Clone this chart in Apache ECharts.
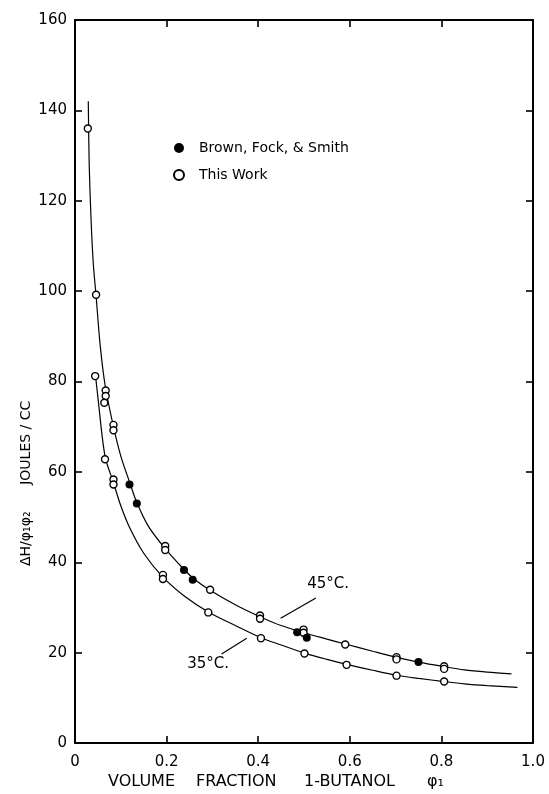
<!DOCTYPE html>
<html>
<head>
<meta charset="utf-8">
<script src="https://cdn.jsdelivr.net/npm/echarts@6/dist/echarts.min.js"></script>
<style>
  html, body { margin: 0; padding: 0; background: #fff; }
  #container { width: 549px; height: 794px; }
</style>
</head>
<body>
<div id="container"></div>
<script>
var dom = document.getElementById("container");
var myChart = echarts.init(dom);

// tick labels
var xTicks = [0, 0.2, 0.4, 0.6, 0.8, 1.0];
var xTickLabels = ["0", "0.2", "0.4", "0.6", "0.8", "1.0"];

// fitted curves [phi1, joules/cc]
var curve45 = [
  [0.029, 142], [0.031, 128], [0.035, 116], [0.040, 106], [0.046, 99],
  [0.055, 88], [0.066, 79], [0.084, 70], [0.100, 63.5], [0.120, 57.5],
  [0.135, 53.2], [0.160, 48], [0.197, 43], [0.237, 38.5], [0.260, 36.3],
  [0.295, 33.8], [0.350, 30.6], [0.405, 27.9], [0.450, 26], [0.500, 24.4],
  [0.550, 23], [0.590, 21.9], [0.650, 20.3], [0.700, 19], [0.750, 17.9],
  [0.806, 16.9], [0.850, 16.2], [0.900, 15.7], [0.953, 15.3]
];
var curve35 = [
  [0.044, 82], [0.050, 76.5], [0.0655, 63.5], [0.084, 57.6], [0.100, 52.5],
  [0.120, 47.5], [0.150, 42], [0.192, 36.7], [0.240, 32.4], [0.291, 29],
  [0.350, 26], [0.406, 23.3], [0.450, 21.7], [0.501, 19.9], [0.550, 18.5],
  [0.593, 17.4], [0.650, 16.1], [0.702, 15], [0.750, 14.3], [0.806, 13.6],
  [0.850, 13.1], [0.900, 12.7], [0.966, 12.3]
];

// Brown, Fock, & Smith (filled)
var brownData = [
  [0.119, 57.2], [0.135, 53.0], [0.238, 38.3], [0.257, 36.1],
  [0.485, 24.5], [0.506, 23.3], [0.750, 17.9]
];

// This Work (open)
var thisWork = [
  [0.028, 136], [0.046, 99.2], [0.067, 78.0], [0.067, 76.8], [0.064, 75.3],
  [0.084, 70.4], [0.084, 69.2], [0.197, 43.6], [0.197, 42.7], [0.295, 33.9],
  [0.404, 28.2], [0.404, 27.5], [0.499, 25.1], [0.499, 24.4], [0.590, 21.8],
  [0.702, 19.0], [0.702, 18.5], [0.806, 17.0], [0.806, 16.4],
  [0.044, 81.2], [0.0655, 62.8], [0.084, 58.3], [0.084, 57.2], [0.192, 37.2],
  [0.192, 36.3], [0.291, 28.9], [0.406, 23.2], [0.501, 19.8], [0.593, 17.3],
  [0.702, 14.9], [0.806, 13.6]
];

// leader lines for the temperature labels
var leader45 = [[0.449, 27.6], [0.526, 32.1]];
var leader35 = [[0.320, 19.7], [0.375, 23.2]];
var label45 = [0.507, 34.6];
var label35 = [0.245, 16.9];

var font = "DejaVu Sans";

function fmtX(v) {
  var i = xTicks.indexOf(Math.round(v * 10) / 10);
  return i >= 0 ? xTickLabels[i] : "";
}

var axisLine = { onZero: false, lineStyle: { color: "#000", width: 2 } };
var axisTick = { inside: true, length: 7, lineStyle: { color: "#000", width: 1.6 } };

var option = {
  animation: false,
  backgroundColor: "#fff",
  grid: { left: 75, right: 16, top: 20, bottom: 51 },
  legend: {
    orient: "vertical",
    left: 168,
    top: 136,
    itemWidth: 10,
    itemHeight: 10,
    itemGap: 13,
    textStyle: { fontFamily: font, fontSize: 14, color: "#000", padding: [0, 0, 0, 10] },
    data: [
      { name: "Brown, Fock, & Smith", icon: "circle" },
      { name: "This Work", icon: "circle" }
    ]
  },
  xAxis: [
    {
      type: "value", min: 0, max: 1, interval: 0.2,
      axisLine: axisLine, axisTick: axisTick, splitLine: { show: false },
      axisLabel: { formatter: fmtX, margin: 12, fontFamily: font, fontSize: 15, color: "#000" }
    },
    {
      type: "value", position: "top", min: 0, max: 1, interval: 0.2,
      axisLine: axisLine, axisTick: axisTick, splitLine: { show: false },
      axisLabel: { show: false }
    }
  ],
  yAxis: [
    {
      type: "value", min: 0, max: 160, interval: 20,
      axisLine: axisLine, axisTick: axisTick, splitLine: { show: false },
      axisLabel: { margin: 8, fontFamily: font, fontSize: 15, color: "#000" }
    },
    {
      type: "value", position: "right", min: 0, max: 160, interval: 20,
      axisLine: axisLine, axisTick: axisTick, splitLine: { show: false },
      axisLabel: { show: false }
    }
  ],
  series: [
    {
      name: "45C", type: "line", data: curve45, smooth: 0.3, showSymbol: false,
      lineStyle: { color: "#000", width: 1.2 }, z: 2
    },
    {
      name: "35C", type: "line", data: curve35, smooth: 0.3, showSymbol: false,
      lineStyle: { color: "#000", width: 1.2 }, z: 2
    },
    {
      name: "lead45", type: "line", data: leader45, showSymbol: false,
      lineStyle: { color: "#000", width: 1.2 }, z: 2
    },
    {
      name: "lead35", type: "line", data: leader35, showSymbol: false,
      lineStyle: { color: "#000", width: 1.2 }, z: 2
    },
    {
      name: "This Work", type: "scatter", data: thisWork, symbol: "circle", symbolSize: 7,
      itemStyle: { color: "#fff", borderColor: "#000", borderWidth: 1.4, opacity: 1 }, z: 3
    },
    {
      name: "Brown, Fock, & Smith", type: "scatter", data: brownData, symbol: "circle", symbolSize: 8,
      itemStyle: { color: "#000", opacity: 1 }, z: 4
    }
  ]
};

myChart.setOption(option);

var p45 = myChart.convertToPixel({ gridIndex: 0 }, label45);
var p35 = myChart.convertToPixel({ gridIndex: 0 }, label35);

var titleStyle = { font: "16px " + font, fill: "#000" };

myChart.setOption({
  graphic: [
    {
      type: "text", left: p45[0], top: p45[1] - 10,
      style: { text: "45°C.", font: "15px " + font, fill: "#000" }
    },
    {
      type: "text", left: p35[0], top: p35[1] - 10,
      style: { text: "35°C.", font: "15px " + font, fill: "#000" }
    },
    { type: "text", left: 108, top: 774, style: Object.assign({ text: "VOLUME" }, titleStyle) },
    { type: "text", left: 196, top: 774, style: Object.assign({ text: "FRACTION" }, titleStyle) },
    { type: "text", left: 304, top: 774, style: Object.assign({ text: "1-BUTANOL" }, titleStyle) },
    { type: "text", left: 427, top: 774, style: Object.assign({ text: "φ₁" }, titleStyle) },
    {
      type: "text", x: 19, y: 566, rotation: Math.PI / 2,
      style: { text: "ΔH/φ₁φ₂      JOULES / CC", font: "14px " + font, fill: "#000" }
    }
  ]
});
</script>
</body>
</html>
